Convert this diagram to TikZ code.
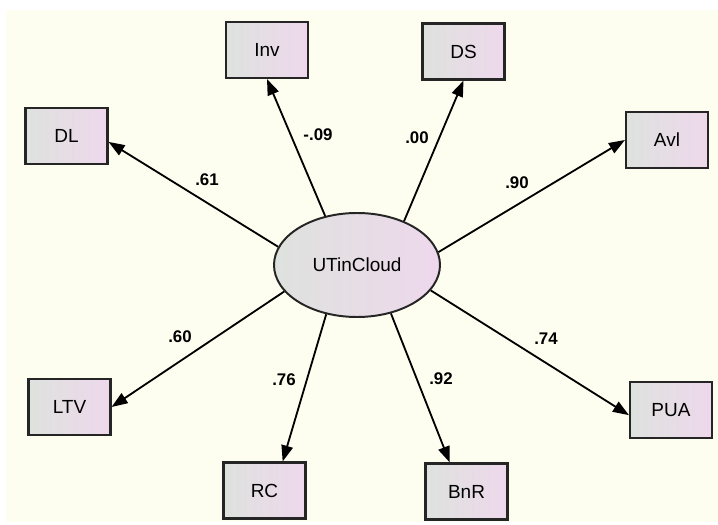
\documentclass[tikz,border=0pt]{standalone}
\usepackage{fontspec}
\setmainfont{Liberation Sans}
\usetikzlibrary{arrows.meta, shapes.geometric}
\definecolor{paper}{HTML}{FEFEF0}
\definecolor{boxleft}{HTML}{DEE2DE}
\definecolor{boxright}{HTML}{EED8EC}
\definecolor{edgegray}{HTML}{252525}

\begin{document}
\begin{tikzpicture}[
    every node/.style={font=\fontsize{13.5}{16}\selectfont},
    indicator/.style={
        rectangle,
        draw=edgegray,
        line width=1.5pt,
        left color=boxleft,
        right color=boxright,
        minimum width=2.05cm,
        minimum height=1.4cm,
        inner sep=0pt
    },
    latent/.style={
        ellipse,
        draw=edgegray,
        line width=1.4pt,
        left color=boxleft,
        right color=boxright,
        minimum width=4.15cm,
        minimum height=2.6cm,
        inner sep=0pt
    },
    loading/.style={font=\bfseries\fontsize{12}{14}\selectfont, inner sep=1pt},
    arrow/.style={line width=1.3pt, -{Triangle[length=4mm,width=2.9mm]}, color=black}
]

\useasboundingbox (0,0) rectangle (17.95,13.1);
\fill[paper] (0.15,0.05) rectangle (17.95,12.85);

\node[latent] (ut) at (8.925,6.475) {UTinCloud};

\node[indicator] (inv) at (6.675,11.85) {Inv};
\node[indicator] (ds) at (11.5875,11.8125) {DS};
\node[indicator] (dl) at (1.6625,9.7) {DL};
\node[indicator] (avl) at (16.675,9.6) {Avl};
\node[indicator] (ltv) at (1.7375,2.925) {LTV};
\node[indicator] (pua) at (16.775,2.85) {PUA};
\node[indicator] (rc) at (6.6125,0.8375) {RC};
\node[indicator] (bnr) at (11.6625,0.8125) {BnR};

\draw[arrow] (ut.167) -- (dl.-8);
\draw[arrow] (ut.123) -- (inv.south);
\draw[arrow] (ut.43) -- (ds.south);
\draw[arrow] (ut.9) -- (avl.west);
\draw[arrow] (ut.200) -- (ltv.east);
\draw[arrow] (ut.238) -- (rc.58);
\draw[arrow] (ut.305) -- (bnr.120);
\draw[arrow] (ut.341) -- (pua.187);

\node[loading] (w-dl) at (5.175,8.6) {.61};
\node[loading] (w-inv) at (7.95,9.725) {-.09};
\node[loading] (w-ds) at (10.425,9.65) {.00};
\node[loading] (w-avl) at (12.925,8.525) {.90};
\node[loading] (w-ltv) at (4.5,4.675) {.60};
\node[loading] (w-rc) at (7.1,3.6) {.76};
\node[loading] (w-bnr) at (11.025,3.625) {.92};
\node[loading] (w-pua) at (13.65,4.625) {.74};

\end{tikzpicture}
\end{document}
